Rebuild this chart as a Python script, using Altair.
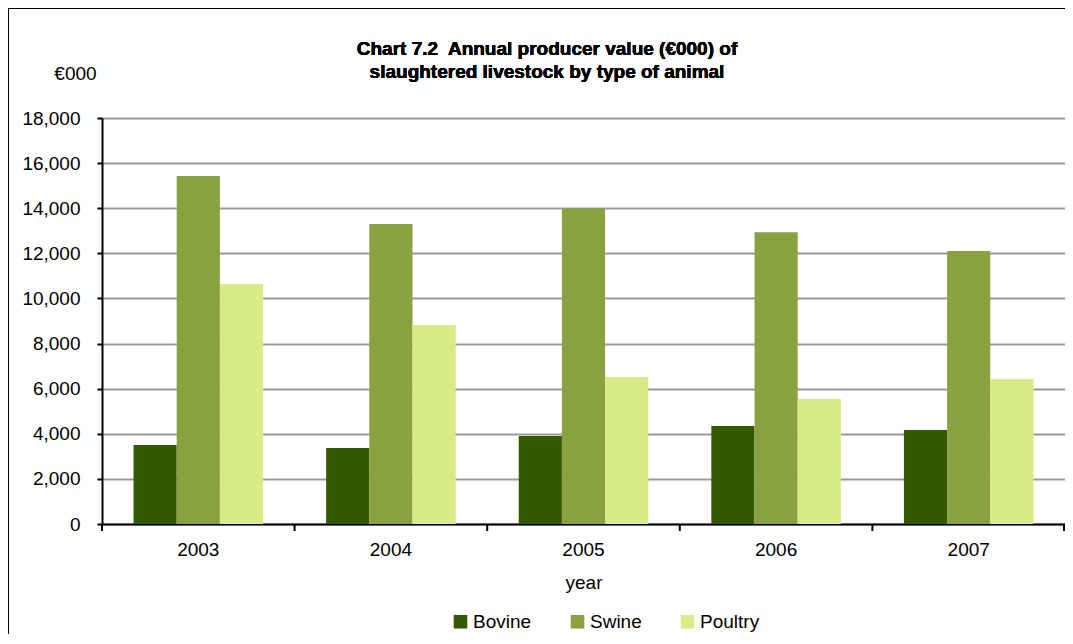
import altair as alt
import pandas as pd

years = ["2003", "2004", "2005", "2006", "2007"]
animals = ["Bovine", "Swine", "Poultry"]
bovine = [3500, 3370, 3900, 4340, 4170]
swine = [15430, 13300, 14000, 12940, 12100]
poultry = [10640, 8820, 6520, 5540, 6430]
colors = ["#335a00", "#8aa142", "#d7eb86"]
title_lines = ["Chart 7.2\u00a0 Annual producer value (€000) of",
               "slaughtered livestock by type of animal"]

rows = []
for i, y in enumerate(years):
    for a, vals in zip(animals, [bovine, swine, poultry]):
        rows.append({"year": y, "animal": a, "value": vals[i]})
df = pd.DataFrame(rows)

W, H = 963, 406
FONT = "Liberation Sans"
FS = 19

xscale = alt.Scale(paddingInner=0, paddingOuter=0)

bars = alt.Chart(df).mark_bar().encode(
    x=alt.X("year:N", scale=xscale, sort=years,
            axis=alt.Axis(title="year", labelAngle=0, ticks=False, domain=True,
                          domainColor="black", domainWidth=2, labelPadding=16,
                          labelFontSize=FS, titleFontSize=FS, titleFontWeight="normal",
                          titlePadding=14, labelColor="black", titleColor="black",
                          labelFont=FONT, titleFont=FONT, grid=False)),
    xOffset=alt.XOffset("animal:N", sort=animals,
                        scale=alt.Scale(paddingInner=0, paddingOuter=0.73)),
    y=alt.Y("value:Q", scale=alt.Scale(domain=[0, 18000]),
            axis=alt.Axis(title="€000", titleAngle=0, titleX=-27, titleY=-45,
                          titleAlign="center", titleBaseline="middle",
                          titleFontSize=FS, titleFontWeight="normal", titleFont=FONT,
                          titleColor="black",
                          values=list(range(0, 18001, 2000)), format=",.0f",
                          labelFontSize=FS, labelFont=FONT, labelColor="black",
                          labelPadding=17, tickSize=5, tickColor="black", tickWidth=2,
                          domainColor="black", domainWidth=2,
                          grid=True, gridColor="#999999", gridWidth=2)),
    color=alt.Color("animal:N", sort=animals,
                    scale=alt.Scale(domain=animals, range=colors),
                    legend=alt.Legend(title=None, orient="none", direction="horizontal",
                                      legendX=349, legendY=494, symbolType="square",
                                      symbolSize=185, symbolStrokeWidth=0,
                                      labelFontSize=FS, labelFont=FONT, labelColor="black",
                                      labelOffset=3, columnPadding=36, padding=0)),
)

tick_df = pd.DataFrame({"year": years})
ticks = alt.Chart(tick_df).mark_rule(color="black", strokeWidth=2).encode(
    x=alt.X("year:N", sort=years, bandPosition=0),
    y=alt.value(H),
    y2=alt.value(H + 7),
)
end_tick = alt.Chart(tick_df).mark_rule(color="black", strokeWidth=2).encode(
    x=alt.value(W - 1), y=alt.value(H), y2=alt.value(H + 7)
)
border = alt.Chart(tick_df).mark_rect(fill=None, stroke="black", strokeWidth=2).encode(
    x=alt.value(-94), x2=alt.value(W + 20), y=alt.value(-110), y2=alt.value(H + 130)
)
t1 = alt.Chart(tick_df).mark_text(font=FONT, fontSize=19, fontWeight="bold",
                                  color="black", align="center", baseline="alphabetic").encode(
    x=alt.value(445), y=alt.value(-63), text=alt.value(title_lines[0]))
t2 = alt.Chart(tick_df).mark_text(font=FONT, fontSize=19, fontWeight="bold",
                                  color="black", align="center", baseline="alphabetic").encode(
    x=alt.value(445), y=alt.value(-40), text=alt.value(title_lines[1]))

chart = alt.layer(bars, ticks, end_tick, border, t1, t2).properties(
    width=W, height=H,
    autosize=alt.AutoSizeParams(type="none"),
    padding={"left": 94, "top": 110, "right": 0, "bottom": 110},
).configure_view(stroke=None).configure(background="white")

chart.save("out.html", embed_options={"renderer": "svg", "actions": False})
